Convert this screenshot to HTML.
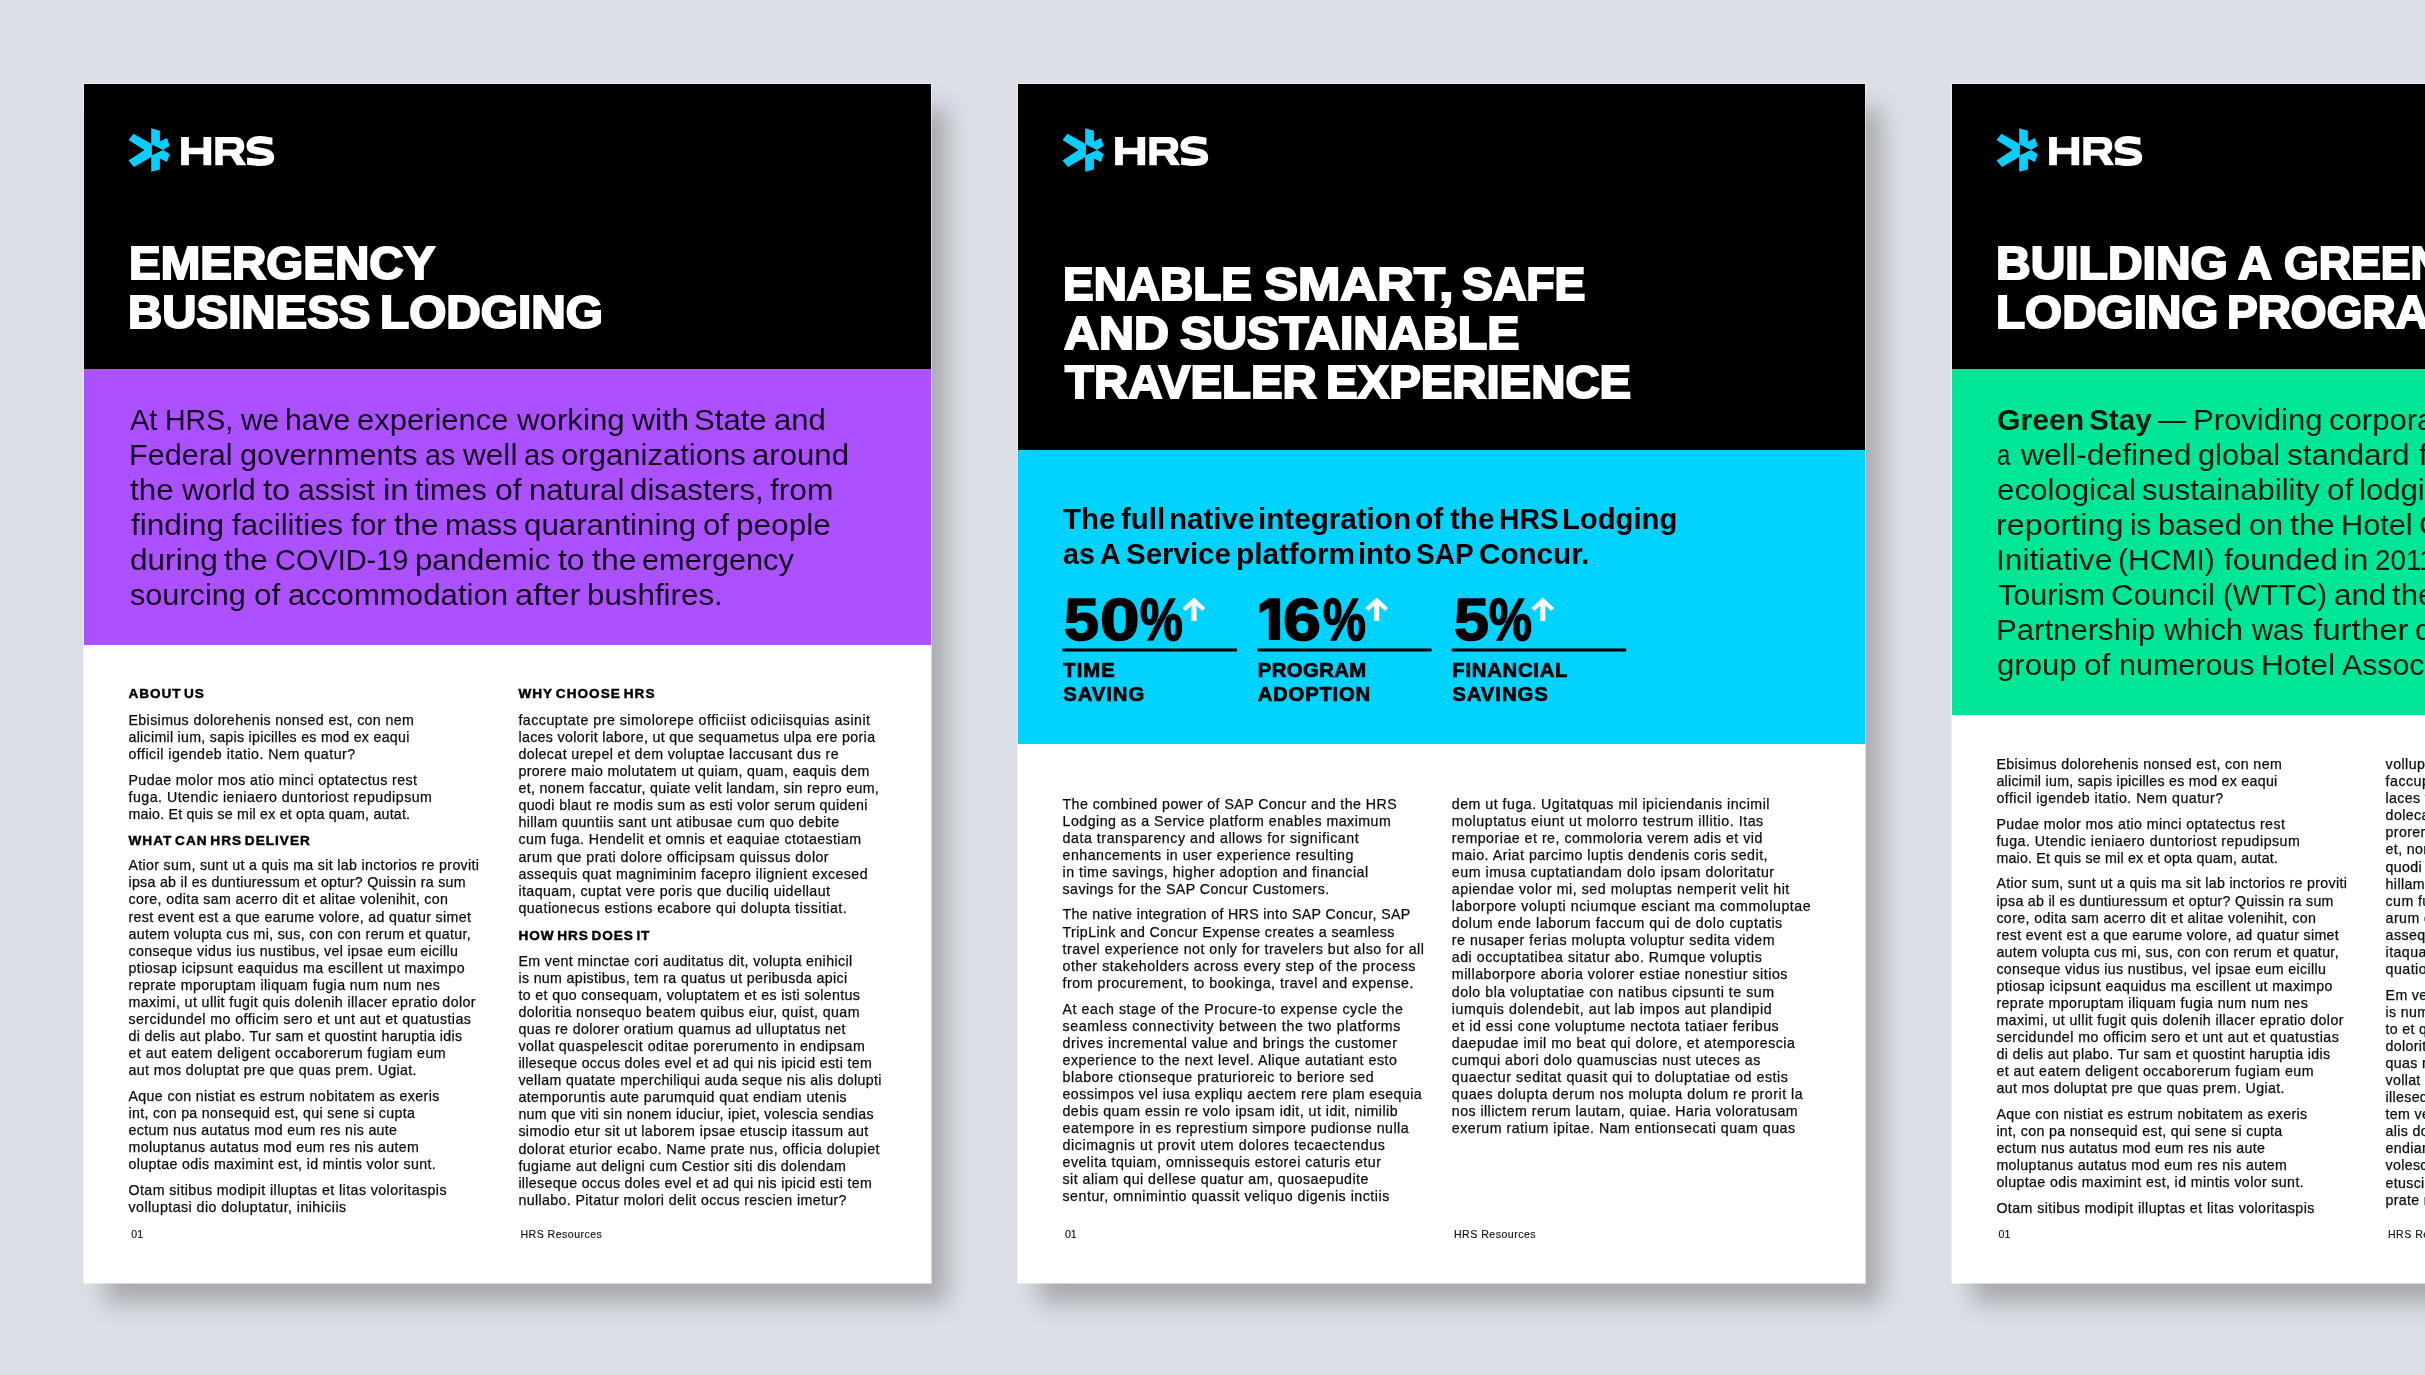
<!DOCTYPE html>
<html lang="en"><head><meta charset="utf-8"><title>HRS Resources</title>
<style>
html,body{margin:0;padding:0}
body{width:2425px;height:1375px;overflow:hidden;position:relative;background:#dcdfe6;font-family:"Liberation Sans",sans-serif}
.pg{position:absolute;top:84.0px;width:847.0px;height:1198.5px;background:#fff;box-shadow:0 0 0 1px rgba(255,255,255,.5),18px 22px 23px -1.5px rgba(0,0,0,.245)}
.pg i{position:absolute;left:0;width:100%;display:block}
#tx{position:absolute;left:0;top:0;width:2425px;height:1375px;will-change:transform}
#tx div{position:absolute;white-space:nowrap}
svg{position:absolute;left:0;top:0}
b{font-weight:bold;color:#000}
.b{font-size:14.2px;line-height:17.0px;font-weight:normal;color:#0c0c0c;-webkit-text-stroke:.25px #0c0c0c;}
.h{font-size:13.6px;line-height:16.3px;font-weight:bold;color:#000;-webkit-text-stroke:.45px #000;word-spacing:-2px;}
.f{font-size:10.6px;line-height:12.7px;font-weight:normal;color:#111;-webkit-text-stroke:.15px #111;}
.i{font-size:29.6px;line-height:35.5px;font-weight:normal;color:#14051f;transform-origin:0 0;}
.ib{font-size:29.6px;line-height:35.5px;font-weight:bold;color:#031a10;transform-origin:0 0;}
.ig{font-size:29.6px;line-height:35.5px;font-weight:normal;color:#031a10;transform-origin:0 0;}
.s{font-size:28.9px;line-height:34.7px;font-weight:bold;color:#000;transform-origin:0 0;}
.t{font-size:45.3px;line-height:54.4px;font-weight:bold;color:#fff;-webkit-text-stroke:2px #fff;transform-origin:0 0;}
.n{font-size:58.8px;line-height:70.6px;font-weight:bold;color:#000;-webkit-text-stroke:1.6px #000;transform-origin:0 0;}
.k{font-size:20.3px;line-height:24.4px;font-weight:bold;color:#000;-webkit-text-stroke:.7px #000;}
</style></head>
<body>
<div class="pg" style="left:84.0px"><i style="top:0;height:285px;background:#000"></i><i style="top:285px;height:276px;background:#ab51ff"></i></div>
<div class="pg" style="left:1018.0px"><i style="top:0;height:366px;background:#000"></i><i style="top:366px;height:294px;background:#02d2fe"></i></div>
<div class="pg" style="left:1952.0px"><i style="top:0;height:285px;background:#000"></i><i style="top:285px;height:346px;background:#00e697"></i></div>
<svg width="2425" height="1375" viewBox="0 0 2425 1375"><g><path fill="#0bceff" d="M151.2 128.3L159.9 130.7V141.4L166.9 138.1L169.7 145.7L163 150.1L169.7 154L166.9 162.1L159.9 158.6V169.5L151.2 171.7V157.1L134 166.9L128.5 160.6L144.4 150.1L128.5 140.1L133.5 133.7L151.2 143.8Z"/><path fill="#000" d="M151.9 144.4V155.3L163 150.1Z"/><path fill="#fff" fill-rule="evenodd" d="M181.1 136.9h7.8v10.8h14.5v-10.8h7.8v28.3h-7.8v-11h-14.5v11h-7.8ZM215.3 136.9H235.5C241 136.9 244.3 140.8 244.3 146.3C244.3 150.5 242.3 153.3 239.2 154.6L246.4 165.2H236.8L230.9 155.7H222.8V165.2H215.3ZM222.8 143.2H234C236 143.2 236.8 144.6 236.8 146.3C236.8 148 236 149.4 234 149.4H222.8Z"/><path fill="none" stroke="#fff" stroke-width="7.2" d="M272.4 141.1C269 141.1 265.5 139.6 259.9 139.6C254 139.6 250.1 141.8 250.1 146C250.1 150.3 255.5 150.6 260.5 151.3C266 152.1 270.6 153 270.6 157.6C270.6 161.2 266 162.5 260.3 162.5C254.5 162.5 250.8 161.1 247.1 161.1"/></g><g transform="translate(934)"><path fill="#0bceff" d="M151.2 128.3L159.9 130.7V141.4L166.9 138.1L169.7 145.7L163 150.1L169.7 154L166.9 162.1L159.9 158.6V169.5L151.2 171.7V157.1L134 166.9L128.5 160.6L144.4 150.1L128.5 140.1L133.5 133.7L151.2 143.8Z"/><path fill="#000" d="M151.9 144.4V155.3L163 150.1Z"/><path fill="#fff" fill-rule="evenodd" d="M181.1 136.9h7.8v10.8h14.5v-10.8h7.8v28.3h-7.8v-11h-14.5v11h-7.8ZM215.3 136.9H235.5C241 136.9 244.3 140.8 244.3 146.3C244.3 150.5 242.3 153.3 239.2 154.6L246.4 165.2H236.8L230.9 155.7H222.8V165.2H215.3ZM222.8 143.2H234C236 143.2 236.8 144.6 236.8 146.3C236.8 148 236 149.4 234 149.4H222.8Z"/><path fill="none" stroke="#fff" stroke-width="7.2" d="M272.4 141.1C269 141.1 265.5 139.6 259.9 139.6C254 139.6 250.1 141.8 250.1 146C250.1 150.3 255.5 150.6 260.5 151.3C266 152.1 270.6 153 270.6 157.6C270.6 161.2 266 162.5 260.3 162.5C254.5 162.5 250.8 161.1 247.1 161.1"/></g><g transform="translate(1868)"><path fill="#0bceff" d="M151.2 128.3L159.9 130.7V141.4L166.9 138.1L169.7 145.7L163 150.1L169.7 154L166.9 162.1L159.9 158.6V169.5L151.2 171.7V157.1L134 166.9L128.5 160.6L144.4 150.1L128.5 140.1L133.5 133.7L151.2 143.8Z"/><path fill="#000" d="M151.9 144.4V155.3L163 150.1Z"/><path fill="#fff" fill-rule="evenodd" d="M181.1 136.9h7.8v10.8h14.5v-10.8h7.8v28.3h-7.8v-11h-14.5v11h-7.8ZM215.3 136.9H235.5C241 136.9 244.3 140.8 244.3 146.3C244.3 150.5 242.3 153.3 239.2 154.6L246.4 165.2H236.8L230.9 155.7H222.8V165.2H215.3ZM222.8 143.2H234C236 143.2 236.8 144.6 236.8 146.3C236.8 148 236 149.4 234 149.4H222.8Z"/><path fill="none" stroke="#fff" stroke-width="7.2" d="M272.4 141.1C269 141.1 265.5 139.6 259.9 139.6C254 139.6 250.1 141.8 250.1 146C250.1 150.3 255.5 150.6 260.5 151.3C266 152.1 270.6 153 270.6 157.6C270.6 161.2 266 162.5 260.3 162.5C254.5 162.5 250.8 161.1 247.1 161.1"/></g><path fill="none" stroke="#fff" stroke-width="4.4" stroke-linejoin="miter" d="M1184.1 609.5L1194.00 600.4L1203.9 609.5"/><rect fill="#fff" x="1191.45" y="600.4" width="5.1" height="20.6"/><path fill="none" stroke="#fff" stroke-width="4.4" stroke-linejoin="miter" d="M1366.8 609.5L1376.70 600.4L1386.6 609.5"/><rect fill="#fff" x="1374.15" y="600.4" width="5.1" height="20.6"/><path fill="none" stroke="#fff" stroke-width="4.4" stroke-linejoin="miter" d="M1532.9 609.5L1542.80 600.4L1552.7 609.5"/><rect fill="#fff" x="1540.25" y="600.4" width="5.1" height="20.6"/><path d="M1268.8 598.2H1280.1V640.1H1268.8V607.9L1259.5 613.5V604.6Z"/><path stroke="#000" stroke-width="3" d="M1062.4 650.1H1237M1257.4 650.1H1431.6M1451.7 650.1H1626.2"/></svg>
<div id="tx">
<div class="h" style="left:128.5px;top:686.3px;letter-spacing:0.92px">ABOUT US</div>
<div class="b" style="left:128.5px;top:712.2px;letter-spacing:0.38px">Ebisimus dolorehenis nonsed est, con nem</div>
<div class="b" style="left:128.5px;top:729.3px;letter-spacing:0.29px">alicimil ium, sapis ipicilles es mod ex eaqui</div>
<div class="b" style="left:128.5px;top:746.3px;letter-spacing:0.48px">officil igendeb itatio. Nem quatur?</div>
<div class="b" style="left:128.5px;top:772.0px;letter-spacing:0.4px">Pudae molor mos atio minci optatectus rest</div>
<div class="b" style="left:128.5px;top:789.1px;letter-spacing:0.49px">fuga. Utendic ieniaero duntoriost repudipsum</div>
<div class="b" style="left:128.5px;top:806.1px;letter-spacing:0.22px">maio. Et quis se mil ex et opta quam, autat.</div>
<div class="h" style="left:128.5px;top:832.9px;letter-spacing:1.01px">WHAT CAN HRS DELIVER</div>
<div class="b" style="left:128.5px;top:857.3px;letter-spacing:0.33px">Atior sum, sunt ut a quis ma sit lab inctorios re proviti</div>
<div class="b" style="left:128.5px;top:874.4px;letter-spacing:0.29px">ipsa ab il es duntiuressum et optur? Quissin ra sum</div>
<div class="b" style="left:128.5px;top:891.4px;letter-spacing:0.38px">core, odita sam acerro dit et alitae volenihit, con</div>
<div class="b" style="left:128.5px;top:908.5px;letter-spacing:0.35px">rest event est a que earume volore, ad quatur simet</div>
<div class="b" style="left:128.5px;top:925.6px;letter-spacing:0.33px">autem volupta cus mi, sus, con con rerum et quatur,</div>
<div class="b" style="left:128.5px;top:942.7px;letter-spacing:0.35px">conseque vidus ius nustibus, vel ipsae eum eicillu</div>
<div class="b" style="left:128.5px;top:959.8px;letter-spacing:0.43px">ptiosap icipsunt eaquidus ma escillent ut maximpo</div>
<div class="b" style="left:128.5px;top:976.8px;letter-spacing:0.41px">reprate mporuptam iliquam fugia num num nes</div>
<div class="b" style="left:128.5px;top:993.9px;letter-spacing:0.41px">maximi, ut ullit fugit quis dolenih illacer epratio dolor</div>
<div class="b" style="left:128.5px;top:1011.0px;letter-spacing:0.44px">sercidundel mo officim sero et unt aut et quatustias</div>
<div class="b" style="left:128.5px;top:1028.1px;letter-spacing:0.35px">di delis aut plabo. Tur sam et quostint haruptia idis</div>
<div class="b" style="left:128.5px;top:1045.2px;letter-spacing:0.46px">et aut eatem deligent occaborerum fugiam eum</div>
<div class="b" style="left:128.5px;top:1062.2px;letter-spacing:0.37px">aut mos doluptat pre que quas prem. Ugiat.</div>
<div class="b" style="left:128.5px;top:1087.9px;letter-spacing:0.37px">Aque con nistiat es estrum nobitatem as exeris</div>
<div class="b" style="left:128.5px;top:1105.0px;letter-spacing:0.33px">int, con pa nonsequid est, qui sene si cupta</div>
<div class="b" style="left:128.5px;top:1122.0px;letter-spacing:0.33px">ectum nus autatus mod eum res nis aute</div>
<div class="b" style="left:128.5px;top:1139.1px;letter-spacing:0.37px">moluptanus autatus mod eum res nis autem</div>
<div class="b" style="left:128.5px;top:1156.2px;letter-spacing:0.38px">oluptae odis maximint est, id mintis volor sunt.</div>
<div class="b" style="left:128.5px;top:1181.8px;letter-spacing:0.43px">Otam sitibus modipit illuptas et litas voloritaspis</div>
<div class="b" style="left:128.5px;top:1198.9px;letter-spacing:0.45px">volluptasi dio doluptatur, inihiciis</div>
<div class="f" style="left:131.2px;top:1228.1px;letter-spacing:0.2px">01</div>
<div class="h" style="left:518.4px;top:686.3px;letter-spacing:1.04px">WHY CHOOSE HRS</div>
<div class="b" style="left:518.4px;top:712.2px;letter-spacing:0.5px">faccuptate pre simolorepe officiist odiciisquias asinit</div>
<div class="b" style="left:518.4px;top:729.1px;letter-spacing:0.36px">laces volorit labore, ut que sequametus ulpa ere poria</div>
<div class="b" style="left:518.4px;top:746.1px;letter-spacing:0.41px">dolecat urepel et dem voluptae laccusant dus re</div>
<div class="b" style="left:518.4px;top:763.1px;letter-spacing:0.36px">prorere maio molutatem ut quiam, quam, eaquis dem</div>
<div class="b" style="left:518.4px;top:780.0px;letter-spacing:0.35px">et, nonem faccatur, quiate velit landam, sin repro eum,</div>
<div class="b" style="left:518.4px;top:797.0px;letter-spacing:0.35px">quodi blaut re modis sum as esti volor serum quideni</div>
<div class="b" style="left:518.4px;top:813.9px;letter-spacing:0.38px">hillam quuntiis sant unt atibusae cum quo debite</div>
<div class="b" style="left:518.4px;top:830.9px;letter-spacing:0.41px">cum fuga. Hendelit et omnis et eaquiae ctotaestiam</div>
<div class="b" style="left:518.4px;top:848.8px;letter-spacing:0.45px">arum que prati dolore officipsam quissus dolor</div>
<div class="b" style="left:518.4px;top:865.9px;letter-spacing:0.43px">assequis quat magniminim facepro ilignient excesed</div>
<div class="b" style="left:518.4px;top:882.9px;letter-spacing:0.42px">itaquam, cuptat vere poris que duciliq uidellaut</div>
<div class="b" style="left:518.4px;top:900.0px;letter-spacing:0.47px">quationecus estions ecabore qui dolupta tissitiat.</div>
<div class="h" style="left:518.4px;top:928.4px;letter-spacing:0.94px">HOW HRS DOES IT</div>
<div class="b" style="left:518.4px;top:952.6px;letter-spacing:0.39px">Em vent minctae cori auditatus dit, volupta enihicil</div>
<div class="b" style="left:518.4px;top:969.7px;letter-spacing:0.35px">is num apistibus, tem ra quatus ut peribusda apici</div>
<div class="b" style="left:518.4px;top:986.7px;letter-spacing:0.38px">to et quo consequam, voluptatem et es isti solentus</div>
<div class="b" style="left:518.4px;top:1003.8px;letter-spacing:0.41px">doloritia nonsequo beatem quibus eiur, quist, quam</div>
<div class="b" style="left:518.4px;top:1020.9px;letter-spacing:0.38px">quas re dolorer oratium quamus ad ulluptatus net</div>
<div class="b" style="left:518.4px;top:1038.0px;letter-spacing:0.47px">vollat quaspelescit oditae porerumento in endipsam</div>
<div class="b" style="left:518.4px;top:1055.1px;letter-spacing:0.33px">illeseque occus doles evel et ad qui nis ipicid esti tem</div>
<div class="b" style="left:518.4px;top:1072.1px;letter-spacing:0.37px">vellam quatate mperchiliqui auda seque nis alis dolupti</div>
<div class="b" style="left:518.4px;top:1089.2px;letter-spacing:0.44px">atemporuntis aute parumquid quat endiam utenis</div>
<div class="b" style="left:518.4px;top:1106.3px;letter-spacing:0.34px">num que viti sin nonem iduciur, ipiet, volescia sendias</div>
<div class="b" style="left:518.4px;top:1123.4px;letter-spacing:0.39px">simodio etur sit ut laborem ipsae etuscip itassum aut</div>
<div class="b" style="left:518.4px;top:1140.5px;letter-spacing:0.44px">dolorat eturior ecabo. Name prate nus, officia dolupiet</div>
<div class="b" style="left:518.4px;top:1157.5px;letter-spacing:0.4px">fugiame aut deligni cum Cestior siti dis dolendam</div>
<div class="b" style="left:518.4px;top:1174.6px;letter-spacing:0.33px">illeseque occus doles evel et ad qui nis ipicid esti tem</div>
<div class="b" style="left:518.4px;top:1191.7px;letter-spacing:0.38px">nullabo. Pitatur molori delit occus rescien imetur?</div>
<div class="f" style="left:520.5px;top:1228.1px;letter-spacing:0.45px">HRS Resources</div>
<div class="k" style="left:1063.2px;top:657.8px;letter-spacing:1.08px">TIME</div>
<div class="k" style="left:1063.2px;top:681.8px;letter-spacing:0.95px">SAVING</div>
<div class="k" style="left:1257.7px;top:657.8px;letter-spacing:0.43px">PROGRAM</div>
<div class="k" style="left:1257.7px;top:681.8px;letter-spacing:0.79px">ADOPTION</div>
<div class="k" style="left:1452.3px;top:657.8px;letter-spacing:0.74px">FINANCIAL</div>
<div class="k" style="left:1452.3px;top:681.8px;letter-spacing:0.94px">SAVINGS</div>
<div class="b" style="left:1062.5px;top:795.6px;letter-spacing:0.44px">The combined power of SAP Concur and the HRS</div>
<div class="b" style="left:1062.5px;top:812.7px;letter-spacing:0.49px">Lodging as a Service platform enables maximum</div>
<div class="b" style="left:1062.5px;top:829.7px;letter-spacing:0.56px">data transparency and allows for significant</div>
<div class="b" style="left:1062.5px;top:846.8px;letter-spacing:0.51px">enhancements in user experience resulting</div>
<div class="b" style="left:1062.5px;top:863.9px;letter-spacing:0.5px">in time savings, higher adoption and financial</div>
<div class="b" style="left:1062.5px;top:881.0px;letter-spacing:0.45px">savings for the SAP Concur Customers.</div>
<div class="b" style="left:1062.5px;top:906.4px;letter-spacing:0.36px">The native integration of HRS into SAP Concur, SAP</div>
<div class="b" style="left:1062.5px;top:923.5px;letter-spacing:0.43px">TripLink and Concur Expense creates a seamless</div>
<div class="b" style="left:1062.5px;top:940.5px;letter-spacing:0.51px">travel experience not only for travelers but also for all</div>
<div class="b" style="left:1062.5px;top:957.6px;letter-spacing:0.56px">other stakeholders across every step of the process</div>
<div class="b" style="left:1062.5px;top:974.7px;letter-spacing:0.53px">from procurement, to bookinga, travel and expense.</div>
<div class="b" style="left:1062.5px;top:1000.5px;letter-spacing:0.55px">At each stage of the Procure-to expense cycle the</div>
<div class="b" style="left:1062.5px;top:1017.6px;letter-spacing:0.66px">seamless connectivity between the two platforms</div>
<div class="b" style="left:1062.5px;top:1034.6px;letter-spacing:0.54px">drives incremental value and brings the customer</div>
<div class="b" style="left:1062.5px;top:1051.7px;letter-spacing:0.52px">experience to the next level. Alique autatiant esto</div>
<div class="b" style="left:1062.5px;top:1068.8px;letter-spacing:0.57px">blabore ctionseque praturioreic to beriore sed</div>
<div class="b" style="left:1062.5px;top:1085.9px;letter-spacing:0.45px">eossimpos vel iusa expliqu aectem rere plam esequia</div>
<div class="b" style="left:1062.5px;top:1103.0px;letter-spacing:0.47px">debis quam essin re volo ipsam idit, ut idit, nimilib</div>
<div class="b" style="left:1062.5px;top:1120.0px;letter-spacing:0.49px">eatempore in es represtium simpore pudionse nulla</div>
<div class="b" style="left:1062.5px;top:1137.1px;letter-spacing:0.59px">dicimagnis ut provit utem dolores tecaectendus</div>
<div class="b" style="left:1062.5px;top:1154.2px;letter-spacing:0.5px">evelita tquiam, omnissequis estorei caturis etur</div>
<div class="b" style="left:1062.5px;top:1171.3px;letter-spacing:0.48px">sit aliam qui dellese quatur am, quosaepudite</div>
<div class="b" style="left:1062.5px;top:1188.4px;letter-spacing:0.52px">sentur, omnimintio quassit veliquo digenis inctiis</div>
<div class="f" style="left:1064.9px;top:1228.1px;letter-spacing:0px">01</div>
<div class="b" style="left:1451.8px;top:795.6px;letter-spacing:0.5px">dem ut fuga. Ugitatquas mil ipiciendanis incimil</div>
<div class="b" style="left:1451.8px;top:812.7px;letter-spacing:0.54px">moluptatus eiunt ut molorro testrum illitio. Itas</div>
<div class="b" style="left:1451.8px;top:829.7px;letter-spacing:0.5px">remporiae et re, commoloria verem adis et vid</div>
<div class="b" style="left:1451.8px;top:846.8px;letter-spacing:0.51px">maio. Ariat parcimo luptis dendenis coris sedit,</div>
<div class="b" style="left:1451.8px;top:863.9px;letter-spacing:0.55px">eum imusa cuptatiandam dolo ipsam doloritatur</div>
<div class="b" style="left:1451.8px;top:881.0px;letter-spacing:0.53px">apiendae volor mi, sed moluptas nemperit velit hit</div>
<div class="b" style="left:1451.8px;top:898.1px;letter-spacing:0.56px">laborpore volupti nciumque esciant ma commoluptae</div>
<div class="b" style="left:1451.8px;top:915.1px;letter-spacing:0.56px">dolum ende laborum faccum qui de dolo cuptatis</div>
<div class="b" style="left:1451.8px;top:932.2px;letter-spacing:0.52px">re nusaper ferias molupta voluptur sedita videm</div>
<div class="b" style="left:1451.8px;top:949.3px;letter-spacing:0.52px">adi occuptatibea sitatur abo. Rumque voluptis</div>
<div class="b" style="left:1451.8px;top:966.4px;letter-spacing:0.53px">millaborpore aboria volorer estiae nonestiur sitios</div>
<div class="b" style="left:1451.8px;top:983.5px;letter-spacing:0.53px">dolo bla voluptatiae con natibus cipsunti te sum</div>
<div class="b" style="left:1451.8px;top:1000.5px;letter-spacing:0.54px">iumquis dolendebit, aut lab impos aut plandipid</div>
<div class="b" style="left:1451.8px;top:1017.6px;letter-spacing:0.55px">et id essi cone voluptume nectota tatiaer feribus</div>
<div class="b" style="left:1451.8px;top:1034.7px;letter-spacing:0.51px">daepudae imil mo beat qui dolore, et atemporescia</div>
<div class="b" style="left:1451.8px;top:1051.8px;letter-spacing:0.51px">cumqui abori dolo quamuscias nust uteces as</div>
<div class="b" style="left:1451.8px;top:1068.9px;letter-spacing:0.57px">quaectur seditat quasit qui to doluptatiae od estis</div>
<div class="b" style="left:1451.8px;top:1085.9px;letter-spacing:0.53px">quaes dolupta derum nos molupta dolum re prorit la</div>
<div class="b" style="left:1451.8px;top:1103.0px;letter-spacing:0.45px">nos illictem rerum lautam, quiae. Haria voloratusam</div>
<div class="b" style="left:1451.8px;top:1120.1px;letter-spacing:0.49px">exerum ratium ipitae. Nam entionsecati quam quas</div>
<div class="f" style="left:1454.0px;top:1228.1px;letter-spacing:0.47px">HRS Resources</div>
<div class="b" style="left:1996.4px;top:756.0px;letter-spacing:0.38px">Ebisimus dolorehenis nonsed est, con nem</div>
<div class="b" style="left:1996.4px;top:773.1px;letter-spacing:0.29px">alicimil ium, sapis ipicilles es mod ex eaqui</div>
<div class="b" style="left:1996.4px;top:790.1px;letter-spacing:0.48px">officil igendeb itatio. Nem quatur?</div>
<div class="b" style="left:1996.4px;top:815.7px;letter-spacing:0.4px">Pudae molor mos atio minci optatectus rest</div>
<div class="b" style="left:1996.4px;top:832.8px;letter-spacing:0.49px">fuga. Utendic ieniaero duntoriost repudipsum</div>
<div class="b" style="left:1996.4px;top:849.8px;letter-spacing:0.22px">maio. Et quis se mil ex et opta quam, autat.</div>
<div class="b" style="left:1996.4px;top:875.4px;letter-spacing:0.33px">Atior sum, sunt ut a quis ma sit lab inctorios re proviti</div>
<div class="b" style="left:1996.4px;top:892.5px;letter-spacing:0.29px">ipsa ab il es duntiuressum et optur? Quissin ra sum</div>
<div class="b" style="left:1996.4px;top:909.5px;letter-spacing:0.38px">core, odita sam acerro dit et alitae volenihit, con</div>
<div class="b" style="left:1996.4px;top:926.6px;letter-spacing:0.35px">rest event est a que earume volore, ad quatur simet</div>
<div class="b" style="left:1996.4px;top:943.7px;letter-spacing:0.33px">autem volupta cus mi, sus, con con rerum et quatur,</div>
<div class="b" style="left:1996.4px;top:960.8px;letter-spacing:0.35px">conseque vidus ius nustibus, vel ipsae eum eicillu</div>
<div class="b" style="left:1996.4px;top:977.9px;letter-spacing:0.43px">ptiosap icipsunt eaquidus ma escillent ut maximpo</div>
<div class="b" style="left:1996.4px;top:994.9px;letter-spacing:0.41px">reprate mporuptam iliquam fugia num num nes</div>
<div class="b" style="left:1996.4px;top:1012.0px;letter-spacing:0.41px">maximi, ut ullit fugit quis dolenih illacer epratio dolor</div>
<div class="b" style="left:1996.4px;top:1029.1px;letter-spacing:0.44px">sercidundel mo officim sero et unt aut et quatustias</div>
<div class="b" style="left:1996.4px;top:1046.2px;letter-spacing:0.35px">di delis aut plabo. Tur sam et quostint haruptia idis</div>
<div class="b" style="left:1996.4px;top:1063.3px;letter-spacing:0.46px">et aut eatem deligent occaborerum fugiam eum</div>
<div class="b" style="left:1996.4px;top:1080.3px;letter-spacing:0.37px">aut mos doluptat pre que quas prem. Ugiat.</div>
<div class="b" style="left:1996.4px;top:1106.0px;letter-spacing:0.37px">Aque con nistiat es estrum nobitatem as exeris</div>
<div class="b" style="left:1996.4px;top:1123.1px;letter-spacing:0.32px">int, con pa nonsequid est, qui sene si cupta</div>
<div class="b" style="left:1996.4px;top:1140.1px;letter-spacing:0.33px">ectum nus autatus mod eum res nis aute</div>
<div class="b" style="left:1996.4px;top:1157.2px;letter-spacing:0.37px">moluptanus autatus mod eum res nis autem</div>
<div class="b" style="left:1996.4px;top:1174.3px;letter-spacing:0.38px">oluptae odis maximint est, id mintis volor sunt.</div>
<div class="b" style="left:1996.4px;top:1199.9px;letter-spacing:0.43px">Otam sitibus modipit illuptas et litas voloritaspis</div>
<div class="f" style="left:1998.6px;top:1228.1px;letter-spacing:0px">01</div>
<div class="b" style="left:2385.6px;top:756.0px;letter-spacing:0.45px">volluptasi dio doluptatur, inihiciis</div>
<div class="b" style="left:2385.6px;top:773.1px;letter-spacing:0.5px">faccuptate pre simolorepe officiist odiciisquias asinit</div>
<div class="b" style="left:2385.6px;top:790.1px;letter-spacing:0.36px">laces volorit labore, ut que sequametus ulpa ere poria</div>
<div class="b" style="left:2385.6px;top:807.2px;letter-spacing:0.41px">dolecat urepel et dem voluptae laccusant dus re</div>
<div class="b" style="left:2385.6px;top:824.3px;letter-spacing:0.36px">prorere maio molutatem ut quiam, quam, eaquis dem</div>
<div class="b" style="left:2385.6px;top:841.4px;letter-spacing:0.35px">et, nonem faccatur, quiate velit landam, sin repro eum,</div>
<div class="b" style="left:2385.6px;top:858.5px;letter-spacing:0.35px">quodi blaut re modis sum as esti volor serum quideni</div>
<div class="b" style="left:2385.6px;top:875.5px;letter-spacing:0.38px">hillam quuntiis sant unt atibusae cum quo debite</div>
<div class="b" style="left:2385.6px;top:892.6px;letter-spacing:0.41px">cum fuga. Hendelit et omnis et eaquiae ctotaestiam</div>
<div class="b" style="left:2385.6px;top:909.7px;letter-spacing:0.45px">arum que prati dolore officipsam quissus dolor</div>
<div class="b" style="left:2385.6px;top:926.8px;letter-spacing:0.43px">assequis quat magniminim facepro ilignient excesed</div>
<div class="b" style="left:2385.6px;top:943.9px;letter-spacing:0.42px">itaquam, cuptat vere poris que duciliq uidellaut</div>
<div class="b" style="left:2385.6px;top:960.9px;letter-spacing:0.47px">quationecus estions ecabore qui dolupta tissitiat.</div>
<div class="b" style="left:2385.6px;top:986.6px;letter-spacing:0.32px">Em vent minctae cori auditatus dit, volupta enihicil</div>
<div class="b" style="left:2385.6px;top:1003.7px;letter-spacing:0.32px">is num apistibus, tem ra quatus ut peribusda apici</div>
<div class="b" style="left:2385.6px;top:1020.7px;letter-spacing:0.32px">to et quo consequam, voluptatem et es isti solentus</div>
<div class="b" style="left:2385.6px;top:1037.8px;letter-spacing:0.32px">doloritia nonsequo beatem quibus eiur, quist, quam</div>
<div class="b" style="left:2385.6px;top:1054.9px;letter-spacing:0.32px">quas re dolorer oratium quamus ad ulluptatus net</div>
<div class="b" style="left:2385.6px;top:1072.0px;letter-spacing:0.32px">vollat quaspelescit oditae porerumento in endipsam</div>
<div class="b" style="left:2385.6px;top:1089.1px;letter-spacing:0.32px">illeseque occus doles evel et ad qui nis ipicid esti</div>
<div class="b" style="left:2385.6px;top:1106.1px;letter-spacing:0.32px">tem vellam quatate mperchiliqui auda seque nis</div>
<div class="b" style="left:2385.6px;top:1123.2px;letter-spacing:0.32px">alis dolupti atemporuntis aute parumquid quat</div>
<div class="b" style="left:2385.6px;top:1140.3px;letter-spacing:0.32px">endiam utenis num que viti sin nonem iduciur, ipiet,</div>
<div class="b" style="left:2385.6px;top:1157.4px;letter-spacing:0.32px">volescia sendias simodio etur sit ut laborem ipsae</div>
<div class="b" style="left:2385.6px;top:1174.5px;letter-spacing:0.32px">etuscip itassum aut dolorat eturior ecabo. Name</div>
<div class="b" style="left:2385.6px;top:1191.5px;letter-spacing:0.32px">prate nus, officia dolupiet fugiame aut deligni cum</div>
<div class="f" style="left:2388.0px;top:1228.1px;letter-spacing:0.46px">HRS Resources</div>
<div class="n" style="left:1063.8px;top:584.6px;transform:scaleX(1.069)">5</div>
<div class="n" style="left:1099.8px;top:584.6px;transform:scaleX(1.211)">0</div>
<div class="n" style="left:1140.2px;top:584.6px;transform:scaleX(0.817)">%</div>
<div class="n" style="left:1283.4px;top:584.6px;transform:scaleX(1.157)">6</div>
<div class="n" style="left:1323.2px;top:584.6px;transform:scaleX(0.819)">%</div>
<div class="n" style="left:1453.8px;top:584.6px;transform:scaleX(1.069)">5</div>
<div class="n" style="left:1489.3px;top:584.6px;transform:scaleX(0.819)">%</div>
<div class="t" style="left:129.0px;top:236.5px;transform:scaleX(1.049)">EMERGENCY</div>
<div class="t" style="left:128.4px;top:285.5px;transform:scaleX(1.047)">BUSINESS</div>
<div class="t" style="left:379.7px;top:285.5px;transform:scaleX(1.055)">LODGING</div>
<div class="t" style="left:1062.8px;top:257.5px;transform:scaleX(1.014)">ENABLE</div>
<div class="t" style="left:1263.7px;top:257.5px;transform:scaleX(1.124)">SMART,</div>
<div class="t" style="left:1461.7px;top:257.5px;transform:scaleX(1.022)">SAFE</div>
<div class="t" style="left:1064.4px;top:306.5px;transform:scaleX(1.069)">AND</div>
<div class="t" style="left:1179.6px;top:306.5px;transform:scaleX(1.065)">SUSTAINABLE</div>
<div class="t" style="left:1064.6px;top:355.5px;transform:scaleX(1.046)">TRAVELER</div>
<div class="t" style="left:1326.2px;top:355.5px;transform:scaleX(1.045)">EXPERIENCE</div>
<div class="t" style="left:1995.6px;top:236.5px;transform:scaleX(1.059)">BUILDING</div>
<div class="t" style="left:2238.4px;top:236.5px;transform:scaleX(1.038)">A</div>
<div class="t" style="left:2283.7px;top:236.5px;transform:scaleX(0.986)">GREEN</div>
<div class="t" style="left:1996.0px;top:285.5px;transform:scaleX(1.052)">LODGING</div>
<div class="t" style="left:2227.1px;top:285.5px;transform:scaleX(1.015)">PROGRAM</div>
<div class="i" style="left:130.4px;top:402.2px;transform:scaleX(0.980)">At</div>
<div class="i" style="left:164.8px;top:402.2px;transform:scaleX(0.965)">HRS,</div>
<div class="i" style="left:240.8px;top:402.2px;transform:scaleX(1.008)">we</div>
<div class="i" style="left:285.2px;top:402.2px;transform:scaleX(1.019)">have</div>
<div class="i" style="left:357.1px;top:402.2px;transform:scaleX(1.046)">experience</div>
<div class="i" style="left:516.8px;top:402.2px;transform:scaleX(1.056)">working</div>
<div class="i" style="left:632.0px;top:402.2px;transform:scaleX(1.082)">with</div>
<div class="i" style="left:694.4px;top:402.2px;transform:scaleX(1.051)">State</div>
<div class="i" style="left:773.9px;top:402.2px;transform:scaleX(1.049)">and</div>
<div class="i" style="left:128.9px;top:437.1px;transform:scaleX(1.033)">Federal</div>
<div class="i" style="left:239.5px;top:437.1px;transform:scaleX(1.038)">governments</div>
<div class="i" style="left:424.7px;top:437.1px;transform:scaleX(0.972)">as</div>
<div class="i" style="left:463.2px;top:437.1px;transform:scaleX(1.067)">well</div>
<div class="i" style="left:523.6px;top:437.1px;transform:scaleX(0.983)">as</div>
<div class="i" style="left:561.1px;top:437.1px;transform:scaleX(1.050)">organizations</div>
<div class="i" style="left:752.3px;top:437.1px;transform:scaleX(1.052)">around</div>
<div class="i" style="left:130.4px;top:472.0px;transform:scaleX(1.060)">the</div>
<div class="i" style="left:182.4px;top:472.0px;transform:scaleX(1.043)">world</div>
<div class="i" style="left:263.4px;top:472.0px;transform:scaleX(1.100)">to</div>
<div class="i" style="left:297.6px;top:472.0px;transform:scaleX(1.017)">assist</div>
<div class="i" style="left:382.6px;top:472.0px;transform:scaleX(1.121)">in</div>
<div class="i" style="left:414.7px;top:472.0px;transform:scaleX(1.017)">times</div>
<div class="i" style="left:494.7px;top:472.0px;transform:scaleX(1.077)">of</div>
<div class="i" style="left:528.8px;top:472.0px;transform:scaleX(1.054)">natural</div>
<div class="i" style="left:629.9px;top:472.0px;transform:scaleX(1.056)">disasters,</div>
<div class="i" style="left:769.9px;top:472.0px;transform:scaleX(1.071)">from</div>
<div class="i" style="left:130.7px;top:506.9px;transform:scaleX(1.067)">finding</div>
<div class="i" style="left:231.5px;top:506.9px;transform:scaleX(1.056)">facilities</div>
<div class="i" style="left:350.7px;top:506.9px;transform:scaleX(1.027)">for</div>
<div class="i" style="left:394.4px;top:506.9px;transform:scaleX(1.088)">the</div>
<div class="i" style="left:445.2px;top:506.9px;transform:scaleX(1.023)">mass</div>
<div class="i" style="left:524.3px;top:506.9px;transform:scaleX(1.057)">quarantining</div>
<div class="i" style="left:702.7px;top:506.9px;transform:scaleX(1.055)">of</div>
<div class="i" style="left:736.3px;top:506.9px;transform:scaleX(1.067)">people</div>
<div class="i" style="left:129.6px;top:541.8px;transform:scaleX(1.067)">during</div>
<div class="i" style="left:224.3px;top:541.8px;transform:scaleX(1.060)">the</div>
<div class="i" style="left:274.5px;top:541.8px;transform:scaleX(0.977)">COVID-19</div>
<div class="i" style="left:414.7px;top:541.8px;transform:scaleX(1.054)">pandemic</div>
<div class="i" style="left:557.9px;top:541.8px;transform:scaleX(1.078)">to</div>
<div class="i" style="left:591.5px;top:541.8px;transform:scaleX(1.080)">the</div>
<div class="i" style="left:641.9px;top:541.8px;transform:scaleX(1.037)">emergency</div>
<div class="i" style="left:130.2px;top:576.7px;transform:scaleX(1.035)">sourcing</div>
<div class="i" style="left:253.6px;top:576.7px;transform:scaleX(1.068)">of</div>
<div class="i" style="left:288.3px;top:576.7px;transform:scaleX(1.054)">accommodation</div>
<div class="i" style="left:515.1px;top:576.7px;transform:scaleX(1.104)">after</div>
<div class="i" style="left:586.7px;top:576.7px;transform:scaleX(1.058)">bushfires.</div>
<div class="ib" style="left:1996.8px;top:401.7px;transform:scaleX(1.018)">Green</div>
<div class="ib" style="left:2089.2px;top:401.7px;transform:scaleX(1.002)">Stay</div>
<div class="ig" style="left:2158.3px;top:401.7px;transform:scaleX(0.953)">—</div>
<div class="ig" style="left:2192.9px;top:401.7px;transform:scaleX(1.049)">Providing</div>
<div class="ig" style="left:2329.4px;top:401.7px;transform:scaleX(1.050)">corporate</div>
<div class="ig" style="left:1997.1px;top:436.7px;transform:scaleX(0.807)">a</div>
<div class="ig" style="left:2020.7px;top:436.7px;transform:scaleX(1.079)">well-defined</div>
<div class="ig" style="left:2197.8px;top:436.7px;transform:scaleX(1.038)">global</div>
<div class="ig" style="left:2287.3px;top:436.7px;transform:scaleX(1.064)">standard</div>
<div class="ig" style="left:2419.1px;top:436.7px;transform:scaleX(1.050)">for</div>
<div class="ig" style="left:1996.8px;top:471.7px;transform:scaleX(1.056)">ecological</div>
<div class="ig" style="left:2141.5px;top:471.7px;transform:scaleX(1.048)">sustainability</div>
<div class="ig" style="left:2327.2px;top:471.7px;transform:scaleX(1.060)">of</div>
<div class="ig" style="left:2359.4px;top:471.7px;transform:scaleX(1.050)">lodging.</div>
<div class="ig" style="left:1995.9px;top:506.7px;transform:scaleX(1.091)">reporting</div>
<div class="ig" style="left:2130.0px;top:506.7px;transform:scaleX(0.992)">is</div>
<div class="ig" style="left:2158.0px;top:506.7px;transform:scaleX(1.040)">based</div>
<div class="ig" style="left:2249.0px;top:506.7px;transform:scaleX(1.035)">on</div>
<div class="ig" style="left:2290.3px;top:506.7px;transform:scaleX(1.085)">the</div>
<div class="ig" style="left:2341.1px;top:506.7px;transform:scaleX(1.036)">Hotel</div>
<div class="ig" style="left:2418.9px;top:506.7px;transform:scaleX(1.050)">Carbon</div>
<div class="ig" style="left:1995.7px;top:541.7px;transform:scaleX(1.072)">Initiative</div>
<div class="ig" style="left:2118.4px;top:541.7px;transform:scaleX(1.015)">(HCMI)</div>
<div class="ig" style="left:2223.7px;top:541.7px;transform:scaleX(1.062)">founded</div>
<div class="ig" style="left:2343.0px;top:541.7px;transform:scaleX(1.100)">in</div>
<div class="ig" style="left:2374.6px;top:541.7px;transform:scaleX(0.938)">2011</div>
<div class="ig" style="left:1997.8px;top:576.7px;transform:scaleX(1.033)">Tourism</div>
<div class="ig" style="left:2111.3px;top:576.7px;transform:scaleX(1.052)">Council</div>
<div class="ig" style="left:2222.5px;top:576.7px;transform:scaleX(0.990)">(WTTC)</div>
<div class="ig" style="left:2333.9px;top:576.7px;transform:scaleX(1.059)">and</div>
<div class="ig" style="left:2392.4px;top:576.7px;transform:scaleX(1.050)">the</div>
<div class="ig" style="left:1996.0px;top:611.8px;transform:scaleX(1.052)">Partnership</div>
<div class="ig" style="left:2164.3px;top:611.8px;transform:scaleX(1.045)">which</div>
<div class="ig" style="left:2251.7px;top:611.8px;transform:scaleX(0.986)">was</div>
<div class="ig" style="left:2312.8px;top:611.8px;transform:scaleX(1.117)">further</div>
<div class="ig" style="left:2414.7px;top:611.8px;transform:scaleX(1.050)">developed</div>
<div class="ig" style="left:1997.3px;top:646.8px;transform:scaleX(1.053)">group</div>
<div class="ig" style="left:2084.4px;top:646.8px;transform:scaleX(1.064)">of</div>
<div class="ig" style="left:2119.0px;top:646.8px;transform:scaleX(1.030)">numerous</div>
<div class="ig" style="left:2260.8px;top:646.8px;transform:scaleX(1.070)">Hotel</div>
<div class="ig" style="left:2341.6px;top:646.8px;transform:scaleX(1.023)">Associations</div>
<div class="s" style="left:1063.1px;top:501.8px;transform:scaleX(1.017)">The</div>
<div class="s" style="left:1120.8px;top:501.8px;transform:scaleX(1.018)">full</div>
<div class="s" style="left:1168.7px;top:501.8px;transform:scaleX(1.022)">native</div>
<div class="s" style="left:1258.3px;top:501.8px;transform:scaleX(1.025)">integration</div>
<div class="s" style="left:1415.2px;top:501.8px;transform:scaleX(1.035)">of</div>
<div class="s" style="left:1450.0px;top:501.8px;transform:scaleX(1.024)">the</div>
<div class="s" style="left:1498.5px;top:501.8px;transform:scaleX(0.978)">HRS</div>
<div class="s" style="left:1561.6px;top:501.8px;transform:scaleX(1.012)">Lodging</div>
<div class="s" style="left:1063.1px;top:536.9px;transform:scaleX(0.992)">as</div>
<div class="s" style="left:1099.9px;top:536.9px;transform:scaleX(0.987)">A</div>
<div class="s" style="left:1126.1px;top:536.9px;transform:scaleX(1.020)">Service</div>
<div class="s" style="left:1235.9px;top:536.9px;transform:scaleX(1.029)">platform</div>
<div class="s" style="left:1357.8px;top:536.9px;transform:scaleX(1.011)">into</div>
<div class="s" style="left:1416.2px;top:536.9px;transform:scaleX(0.969)">SAP</div>
<div class="s" style="left:1478.7px;top:536.9px;transform:scaleX(1.026)">Concur.</div>
</div>
</body></html>
